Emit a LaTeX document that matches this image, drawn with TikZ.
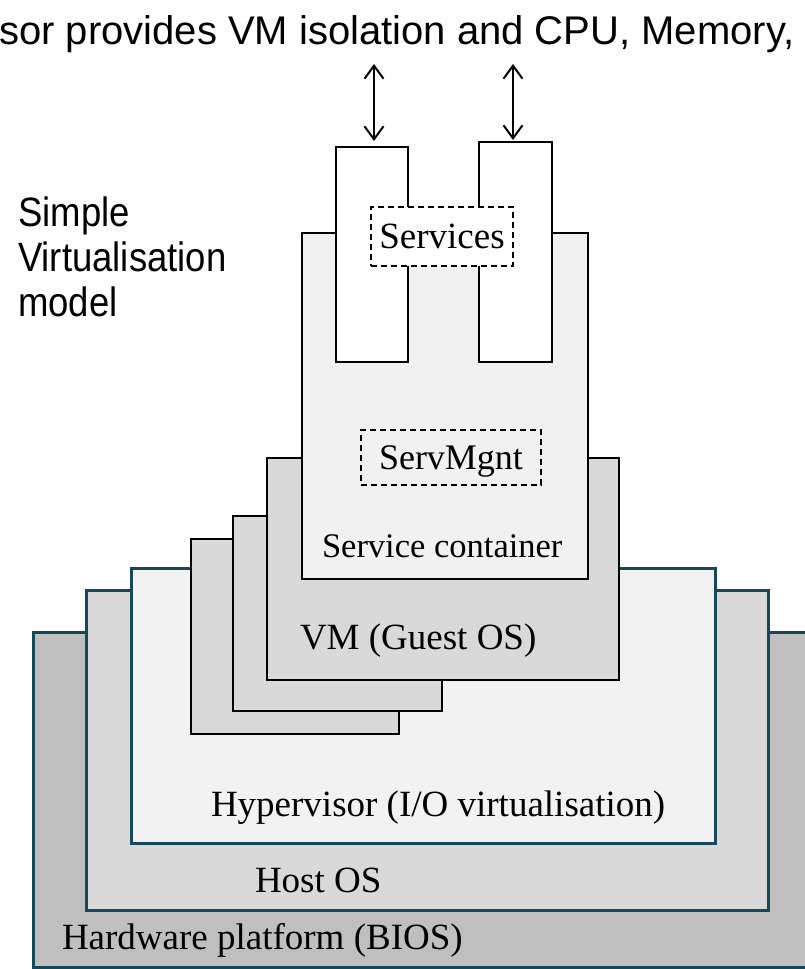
\documentclass[tikz,border=0pt]{standalone}
\usepackage{fontspec}
\setmainfont{Liberation Serif}
\newfontfamily\arialf{Liberation Sans}
\usetikzlibrary{arrows.meta}
\definecolor{osline}{RGB}{22,72,92}
\definecolor{hwfill}{RGB}{191,191,191}
\definecolor{hostfill}{RGB}{217,217,217}
\definecolor{hypfill}{RGB}{242,242,242}
\definecolor{vmfill}{RGB}{217,217,217}
\definecolor{scfill}{RGB}{241,241,241}
\begin{document}
\begin{tikzpicture}[x=1pt,y=-1pt,
  box/.style={inner sep=0pt, outer sep=0pt, anchor=north west},
  oslayer/.style={box, draw=osline, line width=3pt},
  vmlayer/.style={box, draw=black, line width=2pt, fill=vmfill},
  svcbox/.style={box, draw=black, line width=1.6pt, fill=white},
  dashbox/.style={inner sep=0pt, outer sep=0pt, draw=black, line width=1.4pt, dash pattern=on 6pt off 4pt},
  serif/.style={inner sep=0pt, outer sep=0pt, anchor=base west, font=\fontsize{37}{44}\selectfont},
  arr/.style={line width=2pt, {Straight Barb[length=13pt,width=19pt]}-{Straight Barb[length=13pt,width=19pt]}}
]
\useasboundingbox (0,0) rectangle (805,969);
\clip (0,0) rectangle (805,969);
\fill[white] (0,0) rectangle (805,969);

% OS layers
\node[oslayer, fill=hwfill, minimum width=800pt, minimum height=335pt] (hw) at (33,632) {};
\node[oslayer, fill=hostfill, minimum width=682pt, minimum height=320pt] (host) at (86,590) {};
\node[oslayer, fill=hypfill, minimum width=584pt, minimum height=275pt] (hyp) at (131,568) {};

% VMs
\node[vmlayer, minimum width=208pt, minimum height=195pt] (vm3) at (191,539) {};
\node[vmlayer, minimum width=209pt, minimum height=195pt] (vm2) at (233,516) {};
\node[vmlayer, minimum width=352pt, minimum height=222pt] (vm1) at (267,458) {};

% Service container
\node[box, draw=black, line width=2pt, fill=scfill, minimum width=286pt, minimum height=346pt] (sc) at (302,233) {};

% Service columns
\node[svcbox, minimum width=72pt, minimum height=215pt] (svc1) at (336,147) {};
\node[svcbox, minimum width=73pt, minimum height=220pt] (svc2) at (479,142) {};

% Dashed boxes
\node[dashbox, fill=white, minimum width=142pt, minimum height=59pt, text depth=0pt, font=\fontsize{37}{44}\selectfont] (services) at (442,236.5) {Services};
\node[dashbox, fill=scfill, minimum width=180pt, minimum height=55pt, text depth=0pt, font=\fontsize{36}{44}\selectfont] (servmgnt) at (451,457.5) {ServMgnt};

% Arrows
\coordinate (a1top) at (374,64);
\coordinate (a2top) at (513,64);
\draw[arr, shorten >=6pt] (a1top) -- (a1top |- svc1.north);
\draw[arr, shorten >=2pt] (a2top) -- (a2top |- svc2.north);

% Labels
\node[serif, font=\fontsize{34.5}{44}\selectfont] (sclabel) at (322,557) {Service container};
\node[serif] (vmlabel) at (300,649) {VM (Guest OS)};
\node[serif] (hyplabel) at (211,816) {Hypervisor (I/O virtualisation)};
\node[serif] (hostlabel) at (255,892) {Host OS};
\node[serif] (hwlabel) at (62,949) {Hardware platform (BIOS)};

% Sans texts
\node[inner sep=0pt, anchor=base west, font=\arialf\fontsize{40}{44}\selectfont] (title) at (-1,44) {sor provides VM isolation and CPU, Memory,};
\node[inner sep=0pt, anchor=north west, align=left, xscale=0.89, font=\arialf\fontsize{41}{45}\selectfont] (simple) at (18,197) {Simple\\Virtualisation\\model};
\end{tikzpicture}
\end{document}
